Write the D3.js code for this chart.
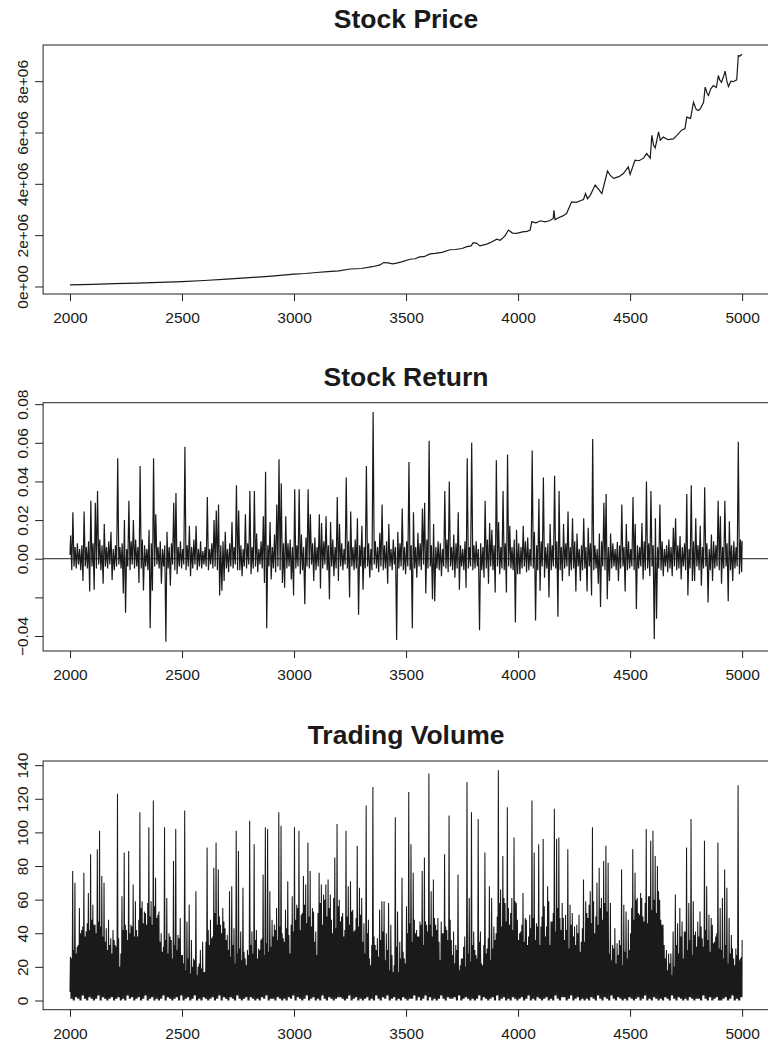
<!DOCTYPE html>
<html><head><meta charset="utf-8">
<script src="https://cdn.jsdelivr.net/npm/d3@7"></script>
<style>
body{margin:0;background:#fff}
svg text{font-family:"Liberation Sans",Arial,Helvetica,sans-serif;fill:#1a1a1a}
</style>
</head><body><svg id="c" width="768" height="1041"></svg>
<script>
// ---------- data ----------
const priceDays=[2000,2100,2200,2300,2400,2500,2600,2700,2800,2900,2950,3000,3050,3100,3150,3200,3250,3300,3350,3384,3400,3420,3440,3458,3480,3518,3540,3560,3580,3607,3630,3660,3696,3720,3750,3771,3790,3800,3815,3830,3860,3880,3905,3920,3940,3957,3975,3994,4020,4040,4054,4061,4080,4100,4120,4140,4157,4160,4165,4180,4200,4217,4239,4260,4280,4292,4301,4310,4322,4344,4360,4374,4399,4410,4426,4450,4470,4492,4500,4522,4540,4560,4574,4590,4597,4605,4612,4627,4635,4648,4670,4693,4710,4730,4745,4753,4770,4783,4795,4805,4815,4828,4835,4845,4850,4860,4872,4885,4894,4900,4908,4916,4924,4932,4939,4950,4960,4976,4983,4990,5000];
const priceValues=[66000,85000,108000,130000,158000,190000,232000,285000,345000,405000,440000,480000,505000,545000,575000,610000,680000,700000,770000,840000,930000,920000,880000,910000,960000,1060000,1080000,1150000,1160000,1270000,1290000,1330000,1430000,1440000,1480000,1550000,1580000,1710000,1680000,1580000,1650000,1720000,1840000,1800000,1950000,2200000,2080000,2070000,2130000,2150000,2200000,2520000,2480000,2560000,2520000,2560000,2650000,2970000,2600000,2680000,2750000,2850000,3300000,3280000,3350000,3390000,3620000,3420000,3550000,3950000,3780000,3620000,4500000,4350000,4210000,4280000,4400000,4660000,4370000,4920000,4900000,5000000,5180000,5000000,5890000,5500000,5400000,6020000,5700000,5820000,5720000,5750000,5900000,6090000,6150000,6600000,6550000,7180000,6900000,6860000,6950000,7180000,7770000,7500000,7440000,7700000,7830000,7750000,8220000,8050000,7960000,8150000,8390000,8000000,7790000,8000000,7980000,8050000,9000000,8980000,9050000];

// returns and volume: values read per 10-day bin, starting at day 2000
const binStart=2000, binWidth=10, lastDay=5000;
const returnStart=0.002, returnEnd=0.009;
const returnHigh=[
.012,.024,.006,.008,.005,.007,.0245,.006,.009,.030,
.008,.029,.035,.010,.007,.018,.006,.009,.014,.005,
.007,.052,.006,.008,.020,.005,.030,.009,.020,.010,
.006,.048,.010,.007,.005,.015,.008,.052,.023,.006,
.009,.005,.007,.014,.006,.008,.029,.034,.006,.009,
.005,.058,.007,.017,.006,.010,.017,.005,.009,.004,
.006,.032,.005,.008,.020,.025,.028,.007,.009,.014,
.005,.008,.019,.006,.038,.025,.007,.005,.023,.008,
.035,.006,.035,.013,.005,.009,.022,.045,.007,.019,
.006,.0125,.028,.0515,.039,.008,.022,.008,.010,.006,
.036,.007,.036,.0125,.006,.011,.036,.023,.008,.011,
.006,.023,.0185,.009,.022,.007,.019,.010,.006,.032,
.018,.008,.005,.042,.009,.0245,.006,.010,.021,.007,
.017,.006,.048,.008,.005,.076,.009,.006,.0134,.028,
.007,.009,.018,.005,.010,.006,.014,.008,.026,.006,
.009,.050,.007,.024,.006,.0134,.008,.026,.029,.010,
.061,.007,.018,.006,.009,.008,.005,.035,.010,.040,
.006,.0125,.008,.024,.007,.005,.009,.052,.006,.060,
.007,.009,.005,.008,.006,.030,.010,.0185,.015,.007,
.051,.019,.006,.035,.008,.054,.017,.006,.010,.015,
.008,.006,.017,.009,.011,.005,.056,.014,.007,.031,
.009,.042,.006,.008,.018,.007,.043,.009,.035,.006,
.018,.008,.0245,.006,.021,.009,.013,.005,.007,.021,
.006,.016,.008,.062,.007,.005,.013,.009,.029,.0335,
.006,.013,.008,.005,.0086,.007,.028,.006,.018,.009,
.005,.032,.018,.007,.006,.0185,.009,.040,.008,.035,
.007,.021,.006,.028,.009,.005,.007,.010,.006,.016,
.021,.007,.0117,.006,.008,.0335,.005,.038,.009,.021,
.007,.017,.006,.037,.008,.005,.0125,.009,.007,.030,
.022,.006,.030,.008,.0194,.007,.009,.006,.0606,.010];
const returnLow=[
-.006,-.004,-.005,-.003,-.006,-.0115,-.004,-.005,-.017,-.004,
-.016,-.005,-.003,-.006,-.013,-.004,-.005,-.003,-.011,-.006,
-.004,-.003,-.005,-.018,-.028,-.004,-.006,-.003,-.005,-.004,
-.0125,-.005,-.0165,-.004,-.006,-.036,-.0166,-.004,-.003,-.005,
-.013,-.004,-.043,-.005,-.014,-.003,-.006,-.008,-.004,-.005,
-.003,-.006,-.004,-.009,-.005,-.003,-.006,-.004,-.005,-.003,
-.004,-.006,-.003,-.005,-.004,-.006,-.019,-.0166,-.0115,-.005,
-.007,-.004,-.005,-.003,-.006,-.006,-.009,-.004,-.005,-.003,
-.008,-.005,-.004,-.007,-.003,-.005,-.0125,-.036,-.004,-.0107,
-.005,-.007,-.004,-.006,-.0125,-.015,-.005,-.004,-.0107,-.019,
-.005,-.004,-.008,-.006,-.0235,-.004,-.005,-.003,-.0115,-.006,
-.004,-.0154,-.005,-.003,-.006,-.021,-.004,-.009,-.005,-.0115,
-.004,-.006,-.003,-.005,-.020,-.004,-.006,-.005,-.029,-.004,
-.016,-.005,-.004,-.0098,-.006,-.003,-.005,-.007,-.004,-.006,
-.005,-.013,-.004,-.006,-.003,-.042,-.005,-.004,-.006,-.008,
-.004,-.006,-.036,-.005,-.0098,-.004,-.006,-.003,-.018,-.005,
-.004,-.021,-.022,-.005,-.006,-.009,-.004,-.005,-.007,-.004,
-.006,-.0098,-.005,-.016,-.004,-.006,-.015,-.005,-.004,-.006,
-.005,-.004,-.037,-.006,-.0098,-.005,-.013,-.004,-.006,-.0175,
-.004,-.008,-.005,-.006,-.0175,-.004,-.005,-.006,-.033,-.008,
-.008,-.005,-.004,-.007,-.006,-.004,-.005,-.032,-.006,-.0166,
-.004,-.0098,-.005,-.020,-.006,-.004,-.005,-.030,-.006,-.0115,
-.005,-.004,-.009,-.006,-.005,-.017,-.004,-.0115,-.006,-.005,
-.017,-.004,-.019,-.006,-.005,-.013,-.025,-.004,-.006,-.021,
-.0115,-.005,-.004,-.006,-.0115,-.005,-.004,-.017,-.006,-.005,
-.004,-.006,-.026,-.005,-.004,-.0107,-.006,-.005,-.009,-.004,
-.0415,-.031,-.005,-.006,-.009,-.004,-.007,-.005,-.009,-.004,
-.006,-.005,-.0107,-.004,-.006,-.019,-.005,-.0115,-.0115,-.004,
-.006,-.014,-.005,-.004,-.0226,-.006,-.0115,-.005,-.004,-.006,
-.013,-.005,-.004,-.022,-.006,-.0115,-.005,-.004,-.008,-.007];

const volumeStart=5, volumeEnd=36;
const volumeHigh=[
26,77,70,32,55,42,76,41,64,87,
57,45,90,101,74,70,43,48,37,42,
33,123,20,62,88,42,89,45,69,59,
38,112,59,53,45,103,59,119,73,51,
35,29,103,61,40,36,83,102,39,49,
27,113,47,57,36,25,65,20,30,35,
17,91,33,37,79,94,78,45,55,43,
39,65,68,43,101,89,41,67,25,30,
107,41,93,42,31,36,75,103,102,65,
48,45,55,112,104,37,54,71,28,62,
103,57,101,51,74,69,94,77,55,35,
27,76,69,63,69,72,63,40,85,105,
60,50,38,101,68,71,54,42,92,67,
61,46,116,48,21,127,33,37,54,59,
59,40,58,45,17,109,53,35,73,25,
56,124,93,76,40,38,47,77,85,45,
135,65,72,45,49,24,40,87,42,110,
36,41,33,75,21,25,38,130,61,112,
41,27,108,41,21,88,31,68,61,44,
40,137,66,86,58,115,45,61,97,58,
36,41,64,49,33,51,119,88,46,93,
44,96,38,68,33,47,114,96,97,42,
49,51,90,57,52,44,45,51,35,72,
59,49,65,103,40,70,79,61,83,92,
82,58,33,43,34,36,78,57,53,48,
40,90,76,61,51,61,47,102,62,95,
101,86,80,60,45,33,30,28,28,41,
63,46,55,47,41,91,58,108,59,41,
47,53,37,95,68,51,49,34,38,94,
55,61,78,67,49,39,25,31,128,25];
// top of the dense black band, per bin
const volumeMid=[
25,30,28,33,40,44,38,46,42,48,
45,40,47,44,38,35,30,33,28,36,
32,37,28,42,45,36,40,44,38,42,
48,55,46,52,58,50,45,56,49,53,
40,32,36,28,38,25,33,30,37,27,
22,18,25,16,20,24,15,22,19,17,
35,42,48,38,52,45,50,40,47,36,
30,26,33,22,28,31,24,29,21,27,
33,28,36,25,30,37,27,34,29,32,
38,42,36,44,40,35,43,39,45,41,
48,55,42,52,57,46,50,44,53,41,
52,58,45,60,50,55,48,61,43,56,
47,52,42,50,45,53,41,49,44,51,
35,28,40,25,33,38,30,26,36,41,
24,30,18,27,21,32,17,25,29,22,
40,46,35,48,42,38,45,33,47,41,
45,38,49,42,35,47,40,44,36,48,
27,22,30,18,25,32,20,28,23,33,
30,25,35,22,33,28,37,24,31,36,
50,58,44,61,47,55,52,42,59,48,
40,45,35,48,38,43,49,36,44,33,
50,56,44,59,47,52,41,55,49,58,
36,42,31,45,38,33,40,29,43,35,
52,57,46,59,50,45,55,48,58,53,
28,24,31,22,27,33,21,29,25,30,
55,48,60,52,64,50,58,46,62,54,
60,52,65,48,45,25,18,22,15,20,
33,28,38,25,41,30,36,27,39,32,
38,44,32,42,36,29,45,35,40,31,
30,25,33,22,28,31,21,27,24,26];
const volumeLow=[
1,0,2,1,0,3,1,0,2,1,
0,1,3,0,2,1,0,1,2,0,
1,2,0,1,0,3,1,2,0,1,
2,0,1,3,0,1,2,0,1,0,
1,3,0,2,1,0,1,2,0,3,
0,1,2,0,1,3,0,1,0,2,
1,0,1,2,0,1,3,0,2,1,
0,2,1,0,3,1,0,1,2,0,
2,1,0,1,0,2,1,3,0,1,
1,0,2,1,0,1,0,2,1,3,
0,2,1,0,1,3,0,1,2,0,
1,0,3,1,0,2,1,0,1,2,
2,1,0,1,3,0,1,2,0,1,
0,1,2,0,1,0,3,1,0,2,
1,3,0,1,2,0,1,0,2,1,
0,1,1,3,0,2,0,1,3,0,
2,0,1,0,1,3,1,0,2,1,
1,2,0,3,0,1,2,1,0,1,
0,1,3,0,2,1,0,1,2,0,
3,0,1,2,0,1,0,2,1,0,
1,2,0,1,3,0,1,0,2,1,
0,1,2,0,1,0,3,1,0,2,
2,0,1,3,0,1,2,0,1,0,
1,0,2,1,0,3,1,0,2,1,
0,3,1,0,2,1,0,1,0,2,
1,0,1,2,0,1,3,0,1,0,
2,1,0,1,0,2,1,0,3,1,
0,2,1,0,1,0,2,1,0,1,
1,0,3,1,0,2,0,1,2,0,
0,1,2,0,1,3,0,1,0,2];

const xTicks=[2000,2500,3000,3500,4000,4500,5000];
const priceTicks=[0,2e6,4e6,6e6,8e6];
const priceTickLabels=["0e+00","2e+06","4e+06","6e+06","8e+06"];
const returnTicks=[-0.04,-0.02,0,0.02,0.04,0.06,0.08];
const returnTickLabels=["\u22120.04","","0.00","0.02","0.04","0.06","0.08"];
const volumeTicks=[0,20,40,60,80,100,120,140];
const volumeTickLabels=["0","20","40","60","80","100","120","140"];
const titles=["Stock Price","Stock Return","Trading Volume"];

// ---------- build series ----------
function returnPoints(){
  const pts=[[binStart,returnStart]];
  returnHigh.forEach((h,k)=>{
    const t0=binStart+k*binWidth;
    pts.push([t0+3,h]);
    pts.push([t0+8,returnLow[k]]);
  });
  pts.push([lastDay,returnEnd]);
  return pts;
}
function volumePoints(){
  const pts=[[binStart,volumeStart]];
  volumeHigh.forEach((h,k)=>{
    const t0=binStart+k*binWidth;
    pts.push([t0+2,h]);
    pts.push([t0+4.5,volumeLow[k]]);
    pts.push([t0+7,volumeMid[k]]);
    pts.push([t0+9.5,volumeLow[k]]);
  });
  pts.push([lastDay,volumeEnd]);
  return pts;
}
const priceSeries=priceDays.map((d,i)=>[d,priceValues[i]]);
const returnSeries=returnPoints();
const volumeSeries=volumePoints();

// ---------- draw ----------
const svg=d3.select("#c");
const left=43.1, right=769;
const ink="#1a1a1a";
function pad(e){const r=(e[1]-e[0])*0.04;return [e[0]-r,e[1]+r];}
const x=d3.scaleLinear().domain(pad([binStart,lastDay])).range([left,right]);

const panels=[
 {title:titles[0],data:priceSeries,ticks:priceTicks,labels:priceTickLabels,top:45,bottom:294,zero:false,lw:1.2},
 {title:titles[1],data:returnSeries,ticks:returnTicks,labels:returnTickLabels,top:402.7,bottom:651,zero:true,lw:1.2},
 {title:titles[2],data:volumeSeries,ticks:volumeTicks,labels:volumeTickLabels,top:761,bottom:1009.7,zero:false,lw:1.05}
];

panels.forEach(p=>{
  const y=d3.scaleLinear().domain(pad(d3.extent(p.data,d=>d[1]))).range([p.bottom,p.top]);
  const g=svg.append("g");
  if(p.zero){
    g.append("line").attr("x1",left).attr("x2",right).attr("y1",y(0)).attr("y2",y(0))
      .attr("stroke",ink).attr("stroke-width",1);
  }
  g.append("path").datum(p.data)
    .attr("d",d3.line().x(d=>x(d[0])).y(d=>y(d[1])))
    .attr("fill","none").attr("stroke",ink).attr("stroke-width",p.lw).attr("stroke-linejoin","miter");
  g.append("rect").attr("x",left).attr("y",p.top).attr("width",right-left).attr("height",p.bottom-p.top)
    .attr("fill","none").attr("stroke","#222").attr("stroke-width",1);

  const xa=g.append("g").attr("transform",`translate(0,${p.bottom})`)
    .call(d3.axisBottom(x).tickValues(xTicks).tickFormat(d3.format("d")).tickSize(7));
  xa.select(".domain").remove();
  xa.attr("font-size",15.5).attr("font-family",null).style("color","#222");
  xa.selectAll("text").attr("y",29).attr("dy",0);

  const ya=g.append("g").attr("transform",`translate(${left},0)`)
    .call(d3.axisLeft(y).tickValues(p.ticks).tickFormat((d,i)=>p.labels[i]).tickSize(8));
  ya.select(".domain").remove();
  ya.attr("font-size",15.5).attr("font-family",null).style("color","#222");
  ya.selectAll("text").attr("x",0).attr("dy",0).attr("text-anchor","middle")
    .attr("transform","translate(-15,0) rotate(-90)");

  svg.append("text").attr("x",(left+right)/2).attr("y",p.top-17)
    .attr("text-anchor","middle").attr("font-weight","bold").attr("font-size",26.5)
    .text(p.title);
});
</script>
</body></html>
